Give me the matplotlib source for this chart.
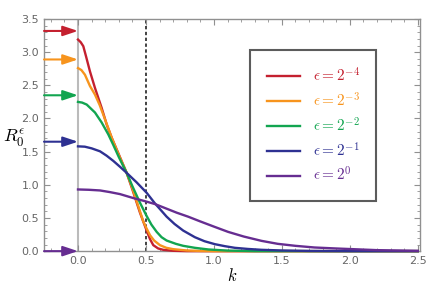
import numpy as np
import matplotlib.pyplot as plt

plt.rcParams['mathtext.fontset'] = 'cm'

# R_0^eps(k), one (k, value) list per epsilon
k_red = [0, 0.02, 0.039, 0.06, 0.088, 0.125, 0.174, 0.211, 0.248, 0.3, 0.358, 0.4, 0.456, 0.505,
         0.53, 0.554, 0.59, 0.627, 0.7, 0.8, 2.5]
r_red = [3.19, 3.15, 3.09, 2.93, 2.71, 2.46, 2.16, 1.91, 1.71, 1.46, 1.18, 0.93, 0.58, 0.31,
         0.18, 0.09, 0.04, 0.02, 0.005, 0.0, 0.0]

k_orange = [0, 0.025, 0.051, 0.088, 0.125, 0.16, 0.2, 0.25, 0.3, 0.358, 0.4, 0.44, 0.48, 0.505,
            0.53, 0.56, 0.603, 0.65, 0.7, 0.8, 0.9, 1.0, 2.5]
r_orange = [2.76, 2.73, 2.66, 2.49, 2.36, 2.20, 1.98, 1.70, 1.45, 1.18, 0.95, 0.70, 0.45, 0.34,
            0.24, 0.16, 0.09, 0.05, 0.03, 0.01, 0.003, 0.0, 0.0]

k_green = [0, 0.03, 0.064, 0.125, 0.174, 0.223, 0.26, 0.3, 0.358, 0.4, 0.456, 0.505, 0.54, 0.579,
           0.615, 0.652, 0.72, 0.774, 0.86, 0.96, 1.1, 1.3, 2.5]
r_green = [2.25, 2.24, 2.21, 2.09, 1.94, 1.76, 1.60, 1.42, 1.18, 0.98, 0.73, 0.53, 0.40, 0.29,
           0.21, 0.16, 0.11, 0.08, 0.05, 0.025, 0.008, 0.0, 0.0]

k_blue = [0, 0.05, 0.1, 0.162, 0.21, 0.26, 0.31, 0.358, 0.43, 0.505, 0.566, 0.652, 0.71, 0.774,
          0.86, 0.93, 1.007, 1.08, 1.154, 1.25, 1.35, 1.5, 1.7, 2.0, 2.5]
r_blue = [1.58, 1.575, 1.55, 1.505, 1.44, 1.36, 1.27, 1.18, 1.04, 0.88, 0.72, 0.52, 0.41, 0.31,
          0.21, 0.15, 0.105, 0.075, 0.05, 0.033, 0.02, 0.01, 0.003, 0.0, 0.0]

k_purple = [0, 0.08, 0.162, 0.235, 0.309, 0.407, 0.49, 0.566, 0.646, 0.726, 0.81, 0.897, 1.0,
            1.105, 1.22, 1.35, 1.47, 1.6, 1.74, 1.9, 2.02, 2.2, 2.35, 2.5]
r_purple = [0.93, 0.925, 0.915, 0.89, 0.86, 0.80, 0.755, 0.71, 0.645, 0.58, 0.52, 0.45, 0.37,
            0.29, 0.22, 0.155, 0.11, 0.08, 0.055, 0.04, 0.03, 0.015, 0.01, 0.005]

# arrow levels on the left (limits as k -> 0)
arrow_vals = [3.32, 2.89, 2.35, 1.65, 0.0]

labels = [r'$\epsilon = 2^{-4}$', r'$\epsilon = 2^{-3}$', r'$\epsilon = 2^{-2}$',
          r'$\epsilon = 2^{-1}$', r'$\epsilon = 2^{0}$']
colors = ['#c4202f', '#f7941d', '#12a550', '#2e3192', '#662d91']

fig = plt.figure(figsize=(4.38, 2.88), dpi=100)
ax = fig.add_axes([0.1005, 0.128, 0.858, 0.806])

ax.axvline(0, color='#bbbbbb', lw=1.5, zorder=1)
ax.axvline(0.5, color='#222222', lw=1.2, ls=(0, (2, 1.5)), zorder=1)

curves = [(k_red, r_red), (k_orange, r_orange), (k_green, r_green), (k_blue, r_blue), (k_purple, r_purple)]
for i in range(len(curves)):
    kk, rr = curves[i]
    ax.plot(kk, rr, color=colors[i], lw=1.7, label=labels[i], clip_on=False, zorder=3)

for i in range(len(arrow_vals)):
    ax.annotate('', xy=(0, arrow_vals[i]), xytext=(-0.25, arrow_vals[i]),
                arrowprops=dict(arrowstyle='-|>,head_length=0.9,head_width=0.3',
                                color=colors[i], lw=1.5, shrinkA=0, shrinkB=0),
                annotation_clip=False, zorder=4)

ax.set_xlim(-0.25, 2.515)
ax.set_ylim(0, 3.5)
ax.set_xticks([0, 0.5, 1.0, 1.5, 2.0, 2.5])
ax.set_xticks(np.arange(-0.2, 2.55, 0.1), minor=True)
ax.set_yticks(np.arange(0, 3.55, 0.5))
ax.set_yticks(np.arange(0, 3.55, 0.1), minor=True)

gray = '#909090'
for s in ax.spines.values():
    s.set_color(gray)
    s.set_linewidth(1.0)
ax.tick_params(which='both', direction='in', top=True, right=True, color=gray,
               labelcolor='#666666', labelsize=8)
ax.tick_params(which='major', length=4, width=0.8)
ax.tick_params(which='minor', length=2, width=0.6)

ax.set_xlabel(r'$k$', fontsize=12, labelpad=1)
ax.set_ylabel(r'$R_0^{\epsilon}$', fontsize=13, rotation=0)
ax.yaxis.set_label_coords(-0.078, 0.44)

leg = ax.legend(loc='upper left', bbox_to_anchor=(0.548, 0.868), borderaxespad=0, fontsize=11,
                frameon=True, fancybox=False, handlelength=2.2, handletextpad=0.8,
                labelspacing=0.44, borderpad=1.1, labelcolor='linecolor')
leg.get_frame().set_edgecolor('#333333')
leg.get_frame().set_linewidth(1.5)

fig.savefig('out.png', dpi=100)
